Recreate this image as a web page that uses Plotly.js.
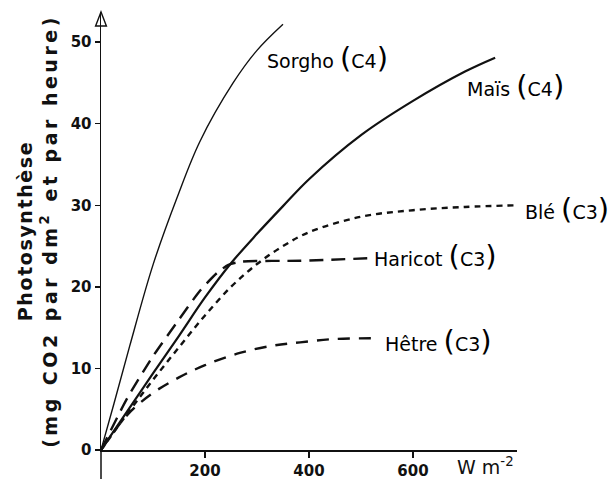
<!DOCTYPE html>
<html>
<head>
<meta charset="utf-8">
<script src="https://cdn.plot.ly/plotly-3.0.1.min.js"></script>
<style>
  html, body { margin: 0; padding: 0; background: #fff; }
  #chart { width: 611px; height: 481px; }
</style>
</head>
<body>
<div id="chart"></div>
<script>
// ---- Data (x: W m-2, y: mg CO2 / dm2 / h) ----
const sorghoX = [0, 25, 55, 100, 146, 190, 254, 300, 350];
const sorghoY = [0, 5.7, 12.7, 22.7, 30.9, 37.8, 45.0, 49.0, 52.2];

const maisX = [0, 50, 100, 150, 200, 250, 300, 350, 400, 500, 600, 700, 758];
const maisY = [0, 4.7, 9.4, 14.0, 18.7, 22.9, 26.5, 29.9, 33.2, 38.6, 42.8, 46.4, 48.1];

const bleX = [0, 50, 100, 150, 200, 250, 300, 350, 400, 500, 600, 700, 800];
const bleY = [0, 4.4, 8.6, 12.6, 16.5, 20.0, 22.8, 25.0, 26.7, 28.6, 29.4, 29.8, 30.0];

const haricotX = [0, 50, 100, 150, 190, 223, 245, 270, 383, 512];
const haricotY = [0, 6.3, 11.5, 16.0, 19.5, 21.7, 22.7, 23.1, 23.2, 23.5];

const hetreX = [0, 52, 100, 150, 200, 267, 331, 383, 446, 521];
const hetreY = [0, 4.4, 7.0, 8.9, 10.4, 11.9, 12.8, 13.2, 13.6, 13.7];

const xTickVals = [200, 400, 600];
const xTickText = ['200', '400', '600'];
const yTickVals = [0, 10, 20, 30, 40, 50];
const yTickText = ['0', '10', '20', '30', '40', '50'];

const curveNames = ['Sorgho (C4)', 'Maïs (C4)', 'Blé (C3)', 'Haricot (C3)', 'Hêtre (C3)'];
const xUnit = 'W m<sup>-2</sup>';
const yTitle = 'Photosynthèse<br>(mg CO2 par dm<sup>2</sup> et par heure)';

// ---- Styling ----
const ink = '#111111';
const P = (s) => '<span style="font-size:29px">' + s + '</span>';
function labelText(name) {
  const m = name.match(/^(.*) \((.*)\)$/);
  return m[1] + ' ' + P('(') + m[2] + P(')');
}

const traces = [
  {x: sorghoX, y: sorghoY, name: curveNames[0], mode: 'lines',
   line: {color: ink, width: 1.4, shape: 'spline'}},
  {x: maisX, y: maisY, name: curveNames[1], mode: 'lines',
   line: {color: ink, width: 2.2, shape: 'spline'}},
  {x: bleX, y: bleY, name: curveNames[2], mode: 'lines',
   line: {color: ink, width: 2.4, shape: 'spline', dash: '6px,5px'}},
  {x: haricotX, y: haricotY, name: curveNames[3], mode: 'lines',
   line: {color: ink, width: 2.4, shape: 'spline', smoothing: 0.6, dash: '14px,8px'}},
  {x: hetreX, y: hetreY, name: curveNames[4], mode: 'lines',
   line: {color: ink, width: 2.4, shape: 'spline', dash: '12px,9px'}}
];

const tickFont = {family: 'DejaVu Sans', size: 15, color: ink, weight: 'bold'};
const labFont = {family: 'DejaVu Sans', size: 19, color: '#000'};

const layout = {
  width: 611, height: 481,
  margin: {l: 101, r: 94, t: 12, b: 31},
  paper_bgcolor: '#ffffff', plot_bgcolor: '#ffffff',
  showlegend: false,
  xaxis: {
    range: [0, 800], showline: true, linecolor: ink, linewidth: 2,
    ticks: 'outside', ticklen: 6, tickwidth: 1.5, tickcolor: ink,
    tickvals: xTickVals, ticktext: xTickText,
    showgrid: false, zeroline: false, tickfont: tickFont, fixedrange: true
  },
  yaxis: {
    range: [0, 53.7], showline: true, linecolor: ink, linewidth: 1.5,
    ticks: 'outside', ticklen: 5, tickwidth: 1.5, tickcolor: ink,
    tickvals: yTickVals, ticktext: yTickText,
    showgrid: false, zeroline: false, tickfont: tickFont, fixedrange: true,
    title: {text: yTitle, font: {family: 'DejaVu Sans', size: 19, color: ink, weight: 'bold'}, standoff: 8}
  },
  shapes: [
    // axis extension below the origin
    {type: 'line', xref: 'paper', yref: 'paper', x0: 0, x1: 0, y0: -0.066, y1: 0,
     line: {color: ink, width: 1.5}},
    {type: 'line', xref: 'paper', yref: 'paper', x0: -0.01, x1: 0, y0: 0, y1: 0,
     line: {color: ink, width: 2}},
    // arrow head on the y axis
    {type: 'path', xref: 'paper', yref: 'paper',
     path: 'M -0.013 0.968 L 0 1.0 L 0.013 0.968 Z',
     line: {color: ink, width: 1.4}, fillcolor: 'rgba(0,0,0,0)'}
  ],
  annotations: [
    {x: 315, y: 48.1, xref: 'x', yref: 'y', xanchor: 'left', yanchor: 'middle',
     text: labelText(curveNames[0]), showarrow: false, font: labFont},
    {x: 700, y: 44.6, xref: 'x', yref: 'y', xanchor: 'left', yanchor: 'middle',
     text: labelText(curveNames[1]), showarrow: false, font: labFont},
    {x: 1.0144, y: 29.6, xref: 'paper', yref: 'y', xanchor: 'left', yanchor: 'middle',
     text: labelText(curveNames[2]), showarrow: false, font: labFont},
    {x: 521, y: 23.8, xref: 'x', yref: 'y', xanchor: 'left', yanchor: 'middle',
     text: labelText(curveNames[3]), showarrow: false, font: labFont},
    {x: 542, y: 13.4, xref: 'x', yref: 'y', xanchor: 'left', yanchor: 'middle',
     text: labelText(curveNames[4]), showarrow: false, font: labFont},
    {x: 0.85, y: -0.036, xref: 'paper', yref: 'paper', xanchor: 'left', yanchor: 'middle',
     text: xUnit, showarrow: false, font: {family: 'DejaVu Sans', size: 19, color: ink}}
  ]
};

Plotly.newPlot('chart', traces, layout, {staticPlot: true}).then(function () {
  const lines = document.querySelectorAll('.ytitle tspan.line');
  if (lines.length >= 2) {
    lines[0].style.letterSpacing = '1.6px';
    lines[1].style.letterSpacing = '3.5px';
  }
});
</script>
</body>
</html>
